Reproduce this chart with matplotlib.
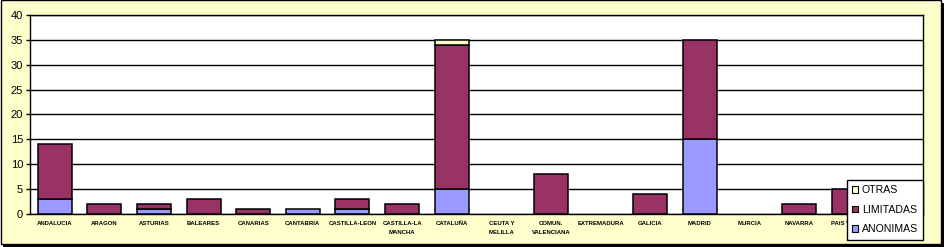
import matplotlib
matplotlib.use("Agg")
import matplotlib.pyplot as plt
from matplotlib.patches import Rectangle, Patch
import numpy as np

categories = ["ANDALUCIA", "ARAGON", "ASTURIAS", "BALEARES", "CANARIAS", "CANTABRIA",
              "CASTILLA-LEON", "CASTILLA-LA\nMANCHA", "CATALUÑA", "CEUTA Y\nMELILLA",
              "COMUN.\nVALENCIANA", "EXTREMADURA", "GALICIA", "MADRID", "MURCIA",
              "NAVARRA", "PAIS VASCO", "LA RIOJA"]
anonimas = [3, 0, 1, 0, 0, 1, 1, 0, 5, 0, 0, 0, 0, 15, 0, 0, 0, 0]
limitadas = [11, 2, 1, 3, 1, 0, 2, 2, 29, 0, 8, 0, 4, 20, 0, 2, 5, 0]
otras = [0, 0, 0, 0, 0, 0, 0, 0, 1, 0, 0, 0, 0, 0, 0, 0, 0, 0]
yticks = [0, 5, 10, 15, 20, 25, 30, 35, 40]

C_ANON = "#9999FF"
C_LIM = "#993366"
C_OTR = "#FFFFCC"
BG = "#FFFFCC"

W, H = 944, 247
fig = plt.figure(figsize=(W / 100, H / 100), dpi=100, facecolor="white")

# shadow and frame
fig.patches.append(Rectangle((3 / W, 0), 941 / W, 244 / H, transform=fig.transFigure,
                             facecolor="black", edgecolor="none", zorder=0))
fig.patches.append(Rectangle((0.5 / W, 3 / H), 940.5 / W, 243.5 / H, transform=fig.transFigure,
                             facecolor=BG, edgecolor="black", linewidth=1, zorder=1))

ax = fig.add_axes([30 / W, 33 / H, 893 / W, 199 / H])
ax.set_facecolor("white")
ax.set_zorder(2)

x = np.arange(len(categories))
a = np.array(anonimas, dtype=float)
l = np.array(limitadas, dtype=float)
o = np.array(otras, dtype=float)


def nz(v):
    # Excel draws nothing for empty segments
    return np.where(v > 0, v, np.nan)


bw = 0.685
kw = dict(width=bw, edgecolor="black", linewidth=1.1, zorder=3)
ax.bar(x, nz(a), color=C_ANON, **kw)
ax.bar(x, nz(l), bottom=a, color=C_LIM, **kw)
ax.bar(x, nz(o), bottom=a + l, color=C_OTR, **kw)

ax.set_xlim(-0.5, len(categories) - 0.5)
ax.set_ylim(0, 40)
ax.set_yticks(yticks)
ax.yaxis.grid(True, color="black", linewidth=1)
ax.set_axisbelow(True)
for s in ax.spines.values():
    s.set_color("black")
    s.set_linewidth(1)

ax.tick_params(axis="y", length=3, width=1, pad=2, labelsize=8, colors="black")
for t in ax.get_yticklabels():
    t.set_fontfamily("Liberation Sans")
ax.set_xticks(x)
ax.set_xticklabels(categories, fontsize=4.3, fontweight="bold",
                   family=["Liberation Sans Narrow", "Liberation Sans"], linespacing=1.9)
ax.tick_params(axis="x", length=0, pad=5)

handles = [Patch(facecolor=C_OTR, edgecolor="black", linewidth=0.8, label="OTRAS"),
           Patch(facecolor=C_LIM, edgecolor="black", linewidth=0.8, label="LIMITADAS"),
           Patch(facecolor=C_ANON, edgecolor="black", linewidth=0.8, label="ANONIMAS")]
leg = fig.legend(handles=handles, loc="upper left",
                 bbox_to_anchor=(847 / W, (H - 180) / H), bbox_transform=fig.transFigure,
                 fancybox=False, shadow=False, frameon=True, framealpha=1,
                 edgecolor="black", facecolor="white",
                 prop={"family": "Liberation Sans", "size": 7.6},
                 handlelength=0.55, handleheight=0.55, handletextpad=0.35,
                 labelspacing=0.9, borderpad=0.5, borderaxespad=0)
leg.get_frame().set_linewidth(1)
leg.set_zorder(10)

fig.savefig("out.png", dpi=100, facecolor=fig.get_facecolor())
